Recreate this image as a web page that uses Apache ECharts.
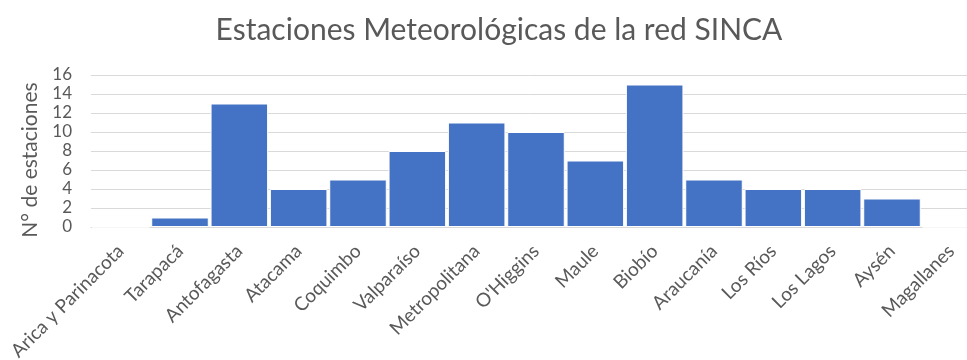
<!DOCTYPE html>
<html><head><meta charset="utf-8">
<script src="https://cdn.jsdelivr.net/npm/echarts@6/dist/echarts.min.js"></script>
<style>html,body{margin:0;padding:0;background:#fff}#c{width:967px;height:360px}</style>
</head><body><div id="c"></div>
<script>
const categories = ['Arica y Parinacota','Tarapacá','Antofagasta','Atacama','Coquimbo','Valparaíso','Metropolitana',"O'Higgins",'Maule','Biobío','Araucanía','Los Ríos','Los Lagos','Aysén','Magallanes'];
const estaciones = [0,1,13,4,5,8,11,10,7,15,5,4,4,3,0];
const yTicks = [0,2,4,6,8,10,12,14,16];

const chart = echarts.init(document.getElementById('c'), null, {renderer:'canvas'});
chart.setOption({
  animation:false,
  backgroundColor:'#fff',
  title:{text:'Estaciones Meteorológicas de la red SINCA', left:494, top:10, textAlign:'center',
    textStyle:{fontFamily:'Lato', fontSize:30, fontWeight:'normal', color:'#595959'}},
  grid:{left:91, top:75, width:890, height:152, outerBoundsMode:'none', containLabel:false},
  xAxis:{type:'category', data:categories,
    axisLine:{show:true, lineStyle:{color:'#d9d9d9', width:1}},
    axisTick:{show:false},
    axisLabel:{interval:0, rotate:45, fontFamily:'Lato', fontSize:19, color:'#595959', margin:21}},
  yAxis:{type:'value', min:yTicks[0], max:yTicks[yTicks.length-1], interval:2,
    name:'N° de estaciones', nameLocation:'middle', nameRotate:90, nameGap:50,
    nameTextStyle:{fontFamily:'Lato', fontSize:21, color:'#595959', padding:[0,18,0,0]},
    axisLine:{show:false}, axisTick:{show:false},
    axisLabel:{fontFamily:'Lato', fontSize:17, color:'#595959', margin:19},
    splitLine:{lineStyle:{color:'#d9d9d9', width:1}}},
  series:[{type:'bar', data:estaciones, barCategoryGap:'3%',
    itemStyle:{color:'#4472C4', borderColor:'#ffffff', borderWidth:1}}]
});
</script></body></html>
